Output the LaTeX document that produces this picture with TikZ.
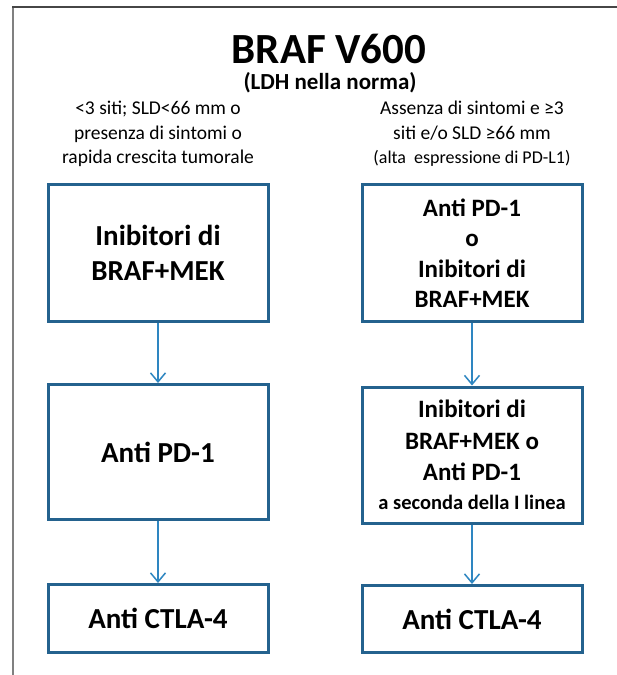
\documentclass[tikz,border=0pt]{standalone}
\usepackage{fontspec}
\setmainfont{Carlito}
\usetikzlibrary{arrows.meta}
\definecolor{boxblue}{RGB}{36,98,142}
\definecolor{arrblue}{RGB}{46,134,193}
\definecolor{framegray}{RGB}{128,128,128}
\definecolor{framedark}{RGB}{70,70,70}
\tikzset{
  stepbox/.style={draw=boxblue, line width=3pt, fill=white, minimum width=220pt, align=center, inner sep=0pt, font=\bfseries},
  flow/.style={draw=arrblue, line width=1.5pt, -{Straight Barb[length=9pt,width=15pt,line width=1.5pt]}},
  crit/.style={align=center, font=\fontsize{19.5}{24.5}\selectfont},
}
\begin{document}
\begin{tikzpicture}[x=1pt,y=-1pt]
\useasboundingbox (0,0) rectangle (617,675);
\fill[white] (0,0) rectangle (617,675);
% frame
\draw[framegray, line width=1.5pt] (13,7) -- (13,675);
\draw[framedark, line width=1.5pt] (12.25,7) -- (617,7);
% title
\node[inner sep=0pt] (title) at (329,49) {\fontsize{43}{43}\selectfont\bfseries BRAF V600};
\node[inner sep=0pt] (sub) at (330,83) {\fontsize{23}{23}\selectfont\bfseries (LDH nella norma)};
\node[crit] (critL) at (158,134) {<3 siti; SLD<66 mm o\\presenza di sintomi o\\rapida crescita tumorale};
\node[crit] (critR) at (472,134) {Assenza di sintomi e ≥3\\siti e/o SLD ≥66 mm\\{\fontsize{18}{22}\selectfont (alta\ \ espressione di PD-L1)}};
% left column
\node[stepbox, minimum height=137pt, font=\fontsize{29}{35}\selectfont\bfseries] (L1) at (158,253) {Inibitori di\\BRAF+MEK};
\node[stepbox, minimum height=135pt, font=\fontsize{29}{35}\selectfont\bfseries] (L2) at (158,452) {Anti PD-1};
\node[stepbox, minimum height=68pt, font=\fontsize{29}{35}\selectfont\bfseries] (L3) at (158,618.5) {Anti CTLA-4};
% right column
\node[stepbox, minimum height=137pt, font=\fontsize{25}{30.5}\selectfont\bfseries] (R1) at (472,253) {Anti PD-1\\o\\Inibitori di\\BRAF+MEK};
\node[stepbox, minimum height=136pt, font=\fontsize{25}{31.5}\selectfont\bfseries] (R2) at (472,455) {Inibitori di\\BRAF+MEK o\\Anti PD-1\\[-3pt]{\fontsize{20.5}{24}\selectfont a seconda della I linea}};
\node[stepbox, minimum height=67pt, font=\fontsize{29}{35}\selectfont\bfseries] (R3) at (472,619) {Anti CTLA-4};
% arrows
\draw[flow] (L1) -- (L2);
\draw[flow] (L2) -- (L3);
\draw[flow] (R1) -- (R2);
\draw[flow] (R2) -- (R3);
\end{tikzpicture}
\end{document}
